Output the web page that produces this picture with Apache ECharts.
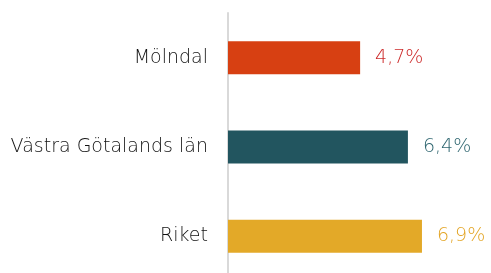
<!DOCTYPE html>
<html>
<head>
<meta charset="utf-8">
<script src="https://cdn.jsdelivr.net/npm/echarts@6/dist/echarts.min.js"></script>
<style>
  html, body { margin: 0; padding: 0; background: #fff; }
  #chart { width: 491px; height: 273px; }
</style>
</head>
<body>
<div id="chart"></div>
<script>
// data
const categories = ['Mölndal', 'Västra Götalands län', 'Riket'];
const values = [4.7, 6.4, 6.9];
const barColors = ['#d74012', '#22555f', '#e3a928'];
const labelColors = ['#cc2a2a', '#2f6670', '#e3a525'];

const chart = echarts.init(document.getElementById('chart'));

const option = {
  animation: false,
  textStyle: { fontFamily: 'DejaVu Sans' },
  grid: { left: 228, right: 10, top: 13, height: 268, outerBoundsMode: 'none' },
  xAxis: {
    type: 'value',
    min: 0,
    max: 9,
    show: false
  },
  yAxis: {
    type: 'category',
    inverse: true,
    data: categories,
    axisLine: { show: true, lineStyle: { color: '#d9d9d9', width: 2 } },
    axisTick: { show: false },
    axisLabel: {
      margin: 20,
      fontSize: 19,
      fontWeight: 200,
      color: '#111111'
    }
  },
  series: [{
    type: 'bar',
    barWidth: 33,
    data: values.map((v, i) => ({
      value: v,
      itemStyle: { color: barColors[i] },
      label: { color: labelColors[i] }
    })),
    label: {
      show: true,
      position: 'right',
      distance: 15,
      fontSize: 19,
      fontWeight: 200,
      formatter: p => p.value.toFixed(1).replace('.', ',') + '%'
    }
  }]
};

chart.setOption(option);
</script>
</body>
</html>
